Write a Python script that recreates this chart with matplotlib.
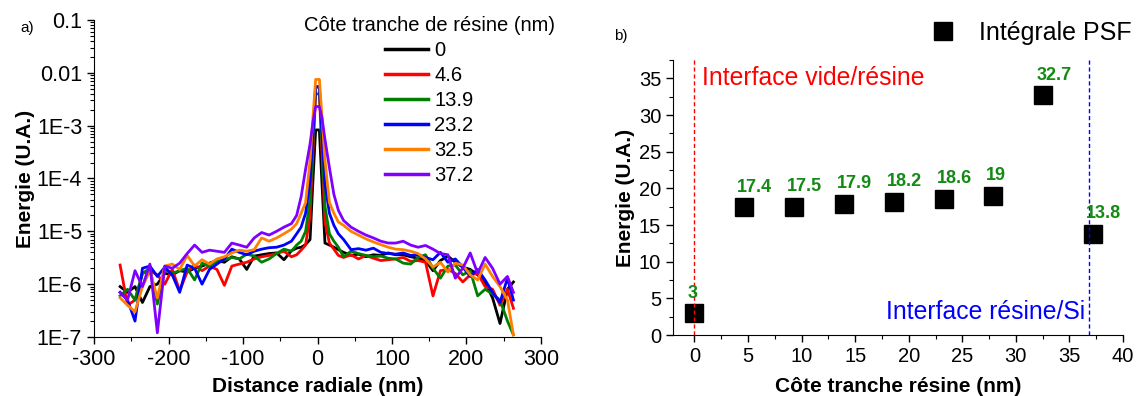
import matplotlib
matplotlib.use('Agg')
import matplotlib.pyplot as plt
from matplotlib.ticker import MultipleLocator, LogLocator, FixedLocator, NullFormatter
import numpy as np

plt.rcParams['font.family'] = ['Liberation Sans', 'DejaVu Sans']
plt.rcParams['axes.unicode_minus'] = False

# a) profils radiaux (energie en 1E-6 U.A.)
dist_nm = [-265, -255, -245, -235, -225, -215, -205, -195, -185, -175, -165, -155,
           -145, -135, -125, -115, -105, -95, -85, -75, -65, -55, -45, -35,
           -28, -22, -16, -10, -6, -2.5, 2.5, 6, 10, 16, 22, 28,
           35, 45, 55, 65, 75, 85, 95, 105, 115, 125, 135, 145,
           155, 165, 175, 185, 195, 205, 215, 225, 235, 245, 255, 263]

e_0 = [0.9, 0.7, 0.9, 0.45, 0.9, 1.0, 1.6, 1.5, 1.8, 1.7, 2.0, 2.2,
       2.5, 2.8, 2.6, 3.3, 3.0, 1.9, 3.4, 3.6, 3.8, 3.9, 2.9, 4.3,
       4.8, 5.0, 5.6, 7, 100, 830, 830, 80, 6, 5.5, 5.0, 4.5,
       4.0, 3.5, 3.7, 3.3, 3.6, 3.5, 3.9, 3.6, 3.6, 3.3, 3.1, 2.8,
       1.8, 2.8, 3.4, 2.6, 2.1, 1.9, 1.5, 1.1, 0.55, 0.18, 0.8, 1.1]
e_4_6 = [2.3, 0.4, 0.5, 1.6, 1.8, 1.5, 1.0, 1.9, 0.75, 1.7, 2.3, 1.8,
         2.2, 1.9, 0.95, 2.2, 2.4, 2.6, 3.0, 3.3, 3.5, 3.8, 4.2, 3.3,
         3.6, 4.4, 5.5, 20, 350, 4000, 4000, 300, 15, 6, 4.6, 3.5,
         3.2, 3.6, 3.0, 3.5, 3.1, 2.8, 2.9, 3.0, 3.2, 2.7, 2.8, 2.6,
         0.6, 1.8, 1.9, 1.6, 1.1, 1.5, 1.6, 0.9, 0.8, 0.4, 0.8, 0.35]
e_13_9 = [0.6, 0.8, 0.5, 1.6, 2.0, 0.42, 1.9, 1.6, 1.8, 2.0, 1.2, 2.5,
          2.2, 2.7, 2.9, 3.2, 3.0, 3.7, 3.4, 2.6, 3.0, 3.8, 4.6, 4.2,
          5.5, 6.5, 10, 40, 500, 5300, 5300, 450, 30, 9, 6.5, 5,
          3.3, 4.2, 3.8, 3.5, 3.3, 3.4, 3.1, 3.0, 2.5, 2.4, 3.2, 3.6,
          2.0, 1.3, 2.2, 2.3, 1.5, 1.8, 0.6, 0.8, 0.65, 0.5, 0.2, 0.11]
e_23_2 = [0.7, 0.5, 0.2, 2.0, 2.2, 1.4, 2.1, 1.5, 0.7, 2.3, 2.0, 1.0,
          1.9, 2.4, 3.0, 4.6, 4.0, 3.6, 4.2, 4.6, 4.9, 5.0, 5.5, 6.5,
          9, 12, 22, 90, 700, 5500, 5500, 700, 80, 22, 13, 9,
          7.0, 4.5, 4.7, 4.4, 4.8, 4.0, 3.8, 3.7, 3.9, 3.5, 3.6, 3.2,
          2.9, 4.0, 2.6, 3.0, 2.1, 1.4, 1.9, 1.2, 0.7, 0.45, 1.3, 0.5]
e_32_5 = [0.55, 0.4, 0.3, 0.9, 1.8, 0.55, 2.2, 2.4, 1.9, 3.5, 2.2, 2.9,
          2.4, 3.0, 3.3, 3.9, 4.4, 4.2, 4.5, 7.5, 6.5, 7.5, 9.0, 11,
          14, 22, 35, 220, 1500, 7500, 7500, 1500, 220, 35, 22, 15,
          13, 10, 8.5, 7.2, 6.3, 5.6, 5.0, 4.6, 4.5, 4.2, 3.8, 3.0,
          2.1, 2.6, 1.7, 2.5, 2.3, 1.5, 1.2, 2.4, 1.4, 0.9, 0.5, 0.11]
e_37_2 = [0.7, 0.5, 1.8, 0.9, 2.4, 0.12, 2.2, 2.0, 2.5, 3.8, 5.5, 4.0,
          4.4, 4.2, 4.0, 6.0, 5.5, 5.0, 7.5, 9.5, 8.5, 10, 12, 14,
          20, 45, 150, 450, 1200, 2300, 2300, 1400, 550, 160, 50, 25,
          16, 12, 10, 8.5, 7.5, 6.5, 6.0, 6.0, 6.5, 5.5, 5.0, 5.4,
          4.6, 3.8, 3.6, 1.3, 2.0, 3.9, 1.6, 3.2, 2.0, 1.0, 1.4, 0.7]

profils = [e_0, e_4_6, e_13_9, e_23_2, e_32_5, e_37_2]
profil_labels = ['0', '4.6', '13.9', '23.2', '32.5', '37.2']
profil_colors = ['black', 'red', 'green', 'blue', '#ff8000', '#8000ff']

# b) integrale PSF
cote_nm = [0, 4.65, 9.3, 13.95, 18.6, 23.25, 27.9, 32.55, 37.2]
integrale = [3, 17.4, 17.5, 17.9, 18.2, 18.6, 19, 32.7, 13.8]
integrale_txt = ['3', '17.4', '17.5', '17.9', '18.2', '18.6', '19', '32.7', '13.8']
interface_vide = 0
interface_si = 36.8

fig = plt.figure(figsize=(11.37, 3.96), dpi=100)
ax1 = fig.add_axes([0.0827, 0.149, 0.3931, 0.8005])
ax2 = fig.add_axes([0.5919, 0.154, 0.3958, 0.6944])

for ax in (ax1, ax2):
    ax.spines['top'].set_visible(False)
    ax.spines['right'].set_visible(False)
    ax.tick_params(which='major', direction='out', length=5, width=1)
    ax.tick_params(which='minor', direction='out', length=3, width=0.8)
ax1.tick_params(which='major', labelsize=15.5)
ax2.tick_params(which='major', labelsize=14.5)

# ---- a)
x = np.array(dist_nm)
for vals, lab, col in zip(profils, profil_labels, profil_colors):
    ax1.plot(x, np.array(vals) * 1e-6, color=col, lw=2, label=lab)

ax1.set_yscale('log')
ax1.set_xlim(-300, 300)
ax1.set_ylim(1e-7, 0.1)
ax1.xaxis.set_major_locator(MultipleLocator(100))
ax1.xaxis.set_minor_locator(MultipleLocator(50))
ax1.yaxis.set_major_locator(FixedLocator([1e-7, 1e-6, 1e-5, 1e-4, 1e-3, 1e-2, 1e-1]))
ax1.yaxis.set_minor_locator(LogLocator(base=10, subs=np.arange(2, 10), numticks=20))
ax1.yaxis.set_minor_formatter(NullFormatter())
ax1.set_yticklabels(['1E-7', '1E-6', '1E-5', '1E-4', '1E-3', '0.01', '0.1'])
ax1.set_xlabel('Distance radiale (nm)', fontsize=15, fontweight='bold', labelpad=5)
ax1.set_ylabel('Energie (U.A.)', fontsize=15, fontweight='bold', labelpad=1)

leg1 = ax1.legend(title='Côte tranche de résine (nm)', loc='upper center',
                  bbox_to_anchor=(429 / 1137, 1 - 16 / 396), bbox_transform=fig.transFigure,
                  frameon=False, fontsize=14.5, title_fontsize=14.5, handlelength=2.15,
                  handletextpad=0.3, labelspacing=0.3, borderpad=0, borderaxespad=0)
for h in leg1.get_lines():
    h.set_linewidth(2.5)

fig.text(20 / 1137, 1 - 28 / 396, 'a)', fontsize=11, va='center')

# ---- b)
ax2.plot(cote_nm, integrale, 's', color='black', markersize=12.5, label='Intégrale PSF')
for xv, yv, t in zip(cote_nm, integrale, integrale_txt):
    ax2.annotate(t, (xv, yv), xytext=(-7, 20), textcoords='offset pixels',
                 ha='left', va='center', color='#138a13', fontsize=13, fontweight='bold')

ax2.axvline(interface_vide, color='red', lw=1, ls=(0, (3, 2)))
ax2.axvline(interface_si, color='blue', lw=1, ls=(0, (3, 2)))
ax2.text(0.7, 35.1, 'Interface vide/résine', color='red', fontsize=17.8, va='center', ha='left')
ax2.text(36.5, 3.1, 'Interface résine/Si', color='blue', fontsize=17.8, va='center', ha='right')

ax2.set_xlim(-2, 40)
ax2.set_ylim(0, 37.5)
ax2.xaxis.set_major_locator(MultipleLocator(5))
ax2.xaxis.set_minor_locator(MultipleLocator(2.5))
ax2.yaxis.set_major_locator(MultipleLocator(5))
ax2.yaxis.set_minor_locator(MultipleLocator(2.5))
ax2.set_xlabel('Côte tranche résine (nm)', fontsize=15, fontweight='bold', labelpad=8)
ax2.set_ylabel('Energie (U.A.)', fontsize=15, fontweight='bold', labelpad=3)

ax2.legend(loc='center left', bbox_to_anchor=(930 / 1137, 1 - 33 / 396),
           bbox_transform=fig.transFigure, frameon=False, fontsize=18,
           handlelength=1.0, handletextpad=0.95, borderpad=0, borderaxespad=0)

fig.text(614 / 1137, 1 - 36 / 396, 'b)', fontsize=11, va='center')

fig.savefig('out.png', dpi=100)
